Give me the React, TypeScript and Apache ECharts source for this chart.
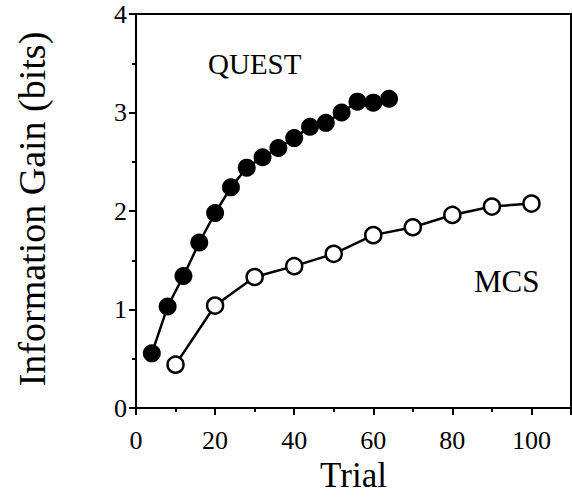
import React, { useEffect, useRef } from "react";
import * as echarts from "echarts";

const questTrials = [4, 8, 12, 16, 20, 24, 28, 32, 36, 40, 44, 48, 52, 56, 60, 64];
const questGain = [0.555, 1.03, 1.34, 1.68, 1.98, 2.24, 2.44, 2.545, 2.64, 2.74, 2.855, 2.895, 3.0, 3.11, 3.1, 3.14];
const mcsTrials = [10, 20, 30, 40, 50, 60, 70, 80, 90, 100];
const mcsGain = [0.44, 1.04, 1.33, 1.44, 1.565, 1.755, 1.835, 1.96, 2.045, 2.075];
const xTitle = "Trial";
const yTitle = "Information Gain (bits)";
const questLabel = "QUEST";
const mcsLabel = "MCS";

const FONT = "Liberation Serif";

export default function App() {
  const ref = useRef<HTMLDivElement>(null);
  useEffect(() => {
    if (!ref.current) return;
    const chart = echarts.init(ref.current, null, { renderer: "svg" });
    chart.setOption({
      animation: false,
      backgroundColor: "#fff",
      textStyle: { fontFamily: FONT, color: "#000" },
      grid: {
        left: 136,
        right: 1,
        top: 14,
        bottom: 96,
        show: true,
        borderColor: "#000",
        borderWidth: 2,
      },
      xAxis: {
        type: "value",
        min: 0,
        max: 110,
        interval: 20,
        name: xTitle,
        nameLocation: "middle",
        nameGap: 42,
        nameTextStyle: { fontFamily: FONT, fontSize: 35, color: "#000" },
        axisLine: { show: true, lineStyle: { color: "#000", width: 2 } },
        axisTick: { show: true, length: 7, lineStyle: { color: "#000", width: 2 } },
        minorTick: { show: true, splitNumber: 2, length: 4, lineStyle: { color: "#000", width: 2 } },
        axisLabel: {
          fontFamily: FONT,
          fontSize: 26,
          color: "#000",
          margin: 19,
          showMaxLabel: false,
        },
        splitLine: { show: false },
        minorSplitLine: { show: false },
      },
      yAxis: {
        type: "value",
        min: 0,
        max: 4,
        interval: 1,
        axisLine: { show: true, lineStyle: { color: "#000", width: 2 } },
        axisTick: { show: true, length: 7, lineStyle: { color: "#000", width: 2 } },
        minorTick: { show: true, splitNumber: 2, length: 4, lineStyle: { color: "#000", width: 2 } },
        axisLabel: { fontFamily: FONT, fontSize: 26, color: "#000", margin: 9 },
        splitLine: { show: false },
        minorSplitLine: { show: false },
      },
      graphic: [
        {
          type: "text",
          x: 32,
          y: 209,
          rotation: Math.PI / 2,
          style: {
            text: yTitle,
            fontFamily: FONT,
            fontSize: 38,
            fill: "#000",
            align: "center",
            verticalAlign: "middle",
          },
        },
        {
          type: "text",
          x: 208,
          y: 64,
          style: {
            text: questLabel,
            fontFamily: FONT,
            fontSize: 29,
            fill: "#000",
            align: "left",
            verticalAlign: "middle",
          },
        },
        {
          type: "text",
          x: 474,
          y: 281,
          style: {
            text: mcsLabel,
            fontFamily: FONT,
            fontSize: 31,
            fill: "#000",
            align: "left",
            verticalAlign: "middle",
          },
        },
      ],
      series: [
        {
          name: questLabel,
          type: "line",
          data: questTrials.map((t, i) => [t, questGain[i]]),
          symbol: "circle",
          symbolSize: 18,
          showAllSymbol: true,
          itemStyle: { color: "#000", borderColor: "#000", borderWidth: 0 },
          lineStyle: { color: "#000", width: 2.5 },
          z: 3,
        },
        {
          name: mcsLabel,
          type: "line",
          data: mcsTrials.map((t, i) => [t, mcsGain[i]]),
          symbol: "circle",
          symbolSize: 16,
          showAllSymbol: true,
          itemStyle: { color: "#fff", borderColor: "#000", borderWidth: 2.5 },
          lineStyle: { color: "#000", width: 2.5 },
          z: 3,
        },
      ],
    });
    return () => chart.dispose();
  }, []);
  return (
    <div
      ref={ref}
      style={{ position: "fixed", left: 0, top: 0, width: 572, height: 504, background: "#fff" }}
    />
  );
}
